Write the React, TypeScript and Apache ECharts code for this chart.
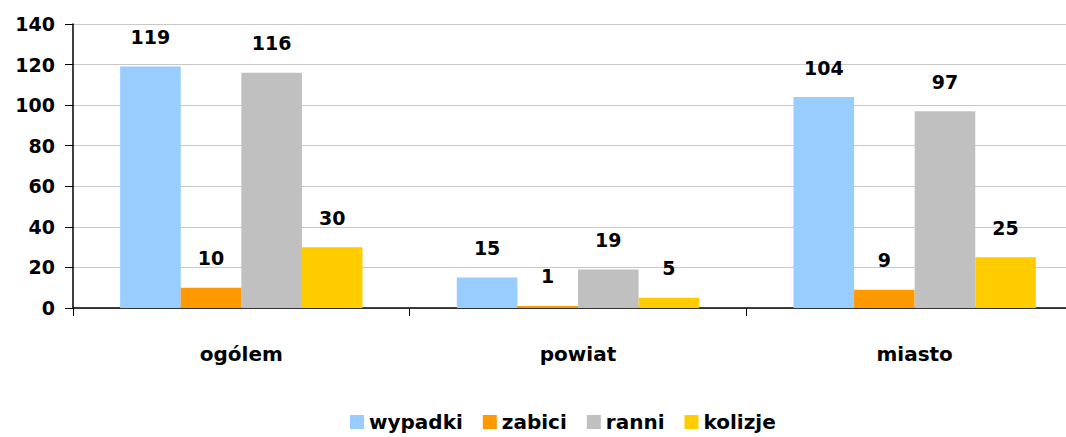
import React, { useEffect, useRef } from "react";
import * as echarts from "echarts";

const categories = ["ogólem", "powiat", "miasto"];
const seriesNames = ["wypadki", "zabici", "ranni", "kolizje"];
const wypadki = [119, 15, 104];
const zabici = [10, 1, 9];
const ranni = [116, 19, 97];
const kolizje = [30, 5, 25];
const colors = ["#99ccff", "#ff9900", "#c0c0c0", "#ffcc00"];
const yTicks = { min: 0, max: 140, interval: 20 };

const FONT = "'DejaVu Sans', Verdana, sans-serif";

export default function App() {
  const ref = useRef<HTMLDivElement>(null);
  useEffect(() => {
    if (!ref.current) return;
    const chart = echarts.init(ref.current, null, { renderer: "svg" });
    const values = [wypadki, zabici, ranni, kolizje];
    chart.setOption({
      animation: false,
      color: colors,
      grid: { left: 73, top: 24, height: 284, width: 1010, outerBoundsMode: "none", containLabel: false },
      legend: {
        left: 350,
        top: 410,
        padding: 0,
        icon: "rect",
        itemWidth: 14,
        itemHeight: 14,
        itemGap: 20,
        textStyle: { fontFamily: FONT, fontWeight: "bold", fontSize: 20, color: "#000", lineHeight: 24 },
        data: seriesNames,
      },
      xAxis: {
        type: "category",
        data: categories,
        axisLine: { lineStyle: { color: "#000", width: 1.5 } },
        axisTick: { show: true, length: 8, lineStyle: { color: "#000" } },
        axisLabel: { margin: 36, fontFamily: FONT, fontWeight: "bold", fontSize: 20, color: "#000" },
      },
      yAxis: {
        type: "value",
        min: yTicks.min,
        max: yTicks.max,
        interval: yTicks.interval,
        axisLine: { show: true, lineStyle: { color: "#000", width: 1.5 } },
        axisTick: { show: true, length: 8, lineStyle: { color: "#000" } },
        axisLabel: { margin: 18, fontFamily: FONT, fontWeight: "bold", fontSize: 19, color: "#000" },
        splitLine: { lineStyle: { color: "#c8c8c8", width: 1 } },
      },
      series: seriesNames.map((name, i) => ({
        name,
        type: "bar",
        data: values[i],
        barGap: "0%",
        barCategoryGap: "28%",
        label: {
          show: true,
          position: "top",
          distance: 20,
          fontFamily: FONT,
          fontWeight: "bold",
          fontSize: 19,
          color: "#000",
        },
      })),
    });
    return () => chart.dispose();
  }, []);
  return (
    <div
      ref={ref}
      style={{ position: "fixed", left: 0, top: 0, width: 1066, height: 437, background: "#fff" }}
    />
  );
}
